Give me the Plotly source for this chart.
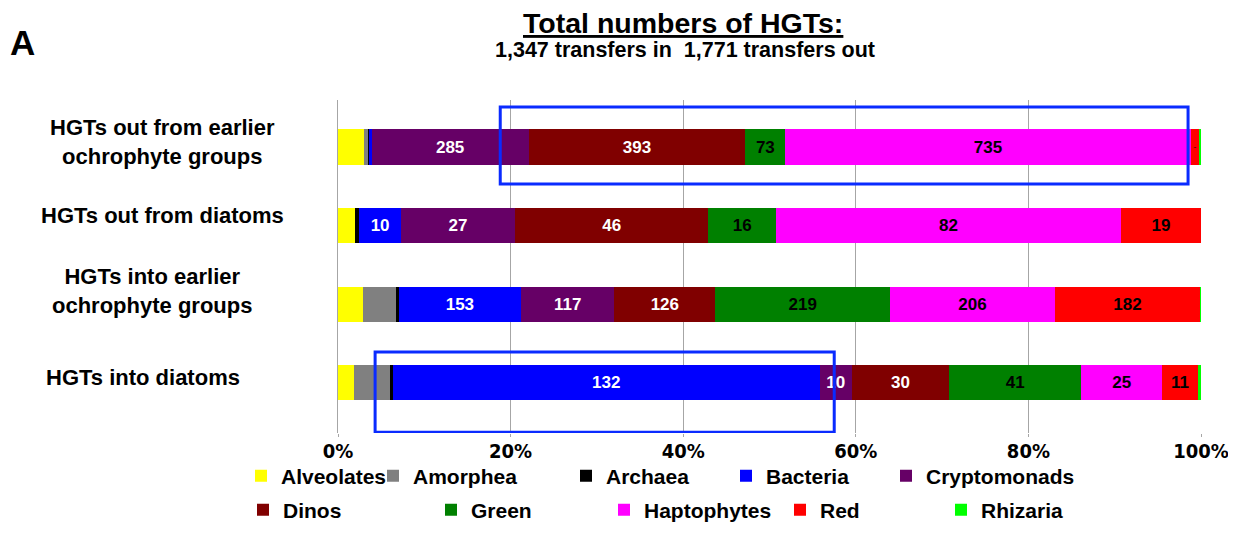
import plotly.graph_objects as go

categories = ["HGTs out from earlier<br>ochrophyte groups", "HGTs out from diatoms",
              "HGTs into earlier<br>ochrophyte groups", "HGTs into diatoms"]

series_names = ["Alveolates", "Amorphea", "Archaea", "Bacteria", "Cryptomonads",
                "Dinos", "Green", "Haptophytes", "Red", "Rhizaria"]

alveolates = [48, 4, 31, 5]
amorphea = [7, 0, 42, 11]
archaea = [1, 1, 3, 1]
bacteria = [5, 10, 153, 132]
cryptomonads = [285, 27, 117, 10]
dinos = [393, 46, 126, 30]
green = [73, 16, 219, 41]
haptophytes = [735, 82, 206, 25]
red = [15, 19, 182, 11]
rhizaria = [4, 0, 1, 1]

series_values = [alveolates, amorphea, archaea, bacteria, cryptomonads,
                 dinos, green, haptophytes, red, rhizaria]
colors = ["#FFFF00", "#808080", "#000000", "#0000FF", "#660066",
          "#800000", "#008000", "#FF00FF", "#FF0000", "#00FF00"]
label_colors = ["black", "black", "white", "white", "white",
                "white", "black", "black", "black", "black"]
show_labels = [False, False, False, True, True, True, True, True, True, False]

x_ticks = [0, 20, 40, 60, 80, 100]
x_tick_text = [f"{v}%" for v in x_ticks]

FONT = "Liberation Sans, Arial, sans-serif"
COND = "DejaVu Sans Condensed, Liberation Sans, Arial, sans-serif"

# legend text start (pixel x, reference coords) and row
legend_text_px = [283, 415, 608, 768, 928, 285, 473, 646, 822, 983]
legend_row = [0, 0, 0, 0, 0, 1, 1, 1, 1, 1]

# page body has an 8px margin; the figure is sized to fit inside the window
OFF = 8
W, H = 1236 - OFF, 533 - OFF
PX0, PY_TOP, PW, PH = 338, 100, 863, 333   # plot area in reference (window) pixels
L, T = PX0 - OFF, PY_TOP - OFF
R = W - L - PW
B = H - T - PH


def px_x(x):
    return (x - PX0) / PW


def px_y(y):
    return (PY_TOP + PH - y) / PH


fig = go.Figure()
for i, (name, vals) in enumerate(zip(series_names, series_values)):
    fig.add_trace(go.Bar(
        name=name, y=categories, x=vals, orientation="h",
        marker=dict(color=colors[i], line=dict(width=0)),
        text=[str(v) if (show_labels[i] and v >= 10) else "" for v in vals],
        textposition="inside", insidetextanchor="middle", textangle=0,
        textfont=dict(family=FONT, size=17, color=label_colors[i], weight="bold"),
        legend="legend" if i == 0 else f"legend{i+1}",
        hoverinfo="x+name",
    ))

layout_legends = {}
for i in range(10):
    key = "legend" if i == 0 else f"legend{i+1}"
    ypx = 476 if legend_row[i] == 0 else 510
    layout_legends[key] = dict(
        x=px_x(legend_text_px[i] - 42), xanchor="left",
        y=px_y(ypx), yanchor="middle",
        orientation="h", bgcolor="rgba(0,0,0,0)", borderwidth=0,
        font=dict(family=FONT, size=21, color="black", weight="bold"),
        itemclick=False, itemdoubleclick=False,
    )

fig.update_layout(
    width=W, height=H,
    margin=dict(l=L, r=R, t=T, b=B, autoexpand=False),
    barmode="stack", barnorm="percent", bargap=0.55,
    plot_bgcolor="white", paper_bgcolor="white",
    showlegend=True,
    xaxis=dict(range=[0, 100], tickvals=x_ticks, ticktext=x_tick_text,
               showgrid=True, gridcolor="#A6A6A6", gridwidth=1,
               ticks="outside", ticklen=3, tickcolor="#A6A6A6",
               ticklabelstandoff=-3,
               zeroline=False, showline=False, automargin=False,
               tickfont=dict(family=COND, size=20, color="black", weight="bold")),
    yaxis=dict(type="category", range=[3.64, -0.6], showticklabels=False,
               showgrid=False, showline=True, linecolor="#A6A6A6", linewidth=1,
               ticks="", automargin=False),
    **layout_legends,
)

# category labels
label_cfg = [(162, -5), (162, -10), (152, -13), (143, -5)]
for cat, (xpx, yshift) in zip(categories, label_cfg):
    fig.add_annotation(text=cat, x=px_x(xpx), xref="paper", y=cat, yref="y",
                       yshift=-yshift, showarrow=False, xanchor="center", yanchor="middle",
                       align="center",
                       font=dict(family=FONT, size=22, color="black", weight="bold"))

# titles
fig.add_annotation(text="Total numbers of HGTs:", x=px_x(683), y=px_y(23),
                   xref="paper", yref="paper", showarrow=False, borderpad=0,
                   xanchor="center", yanchor="middle",
                   font=dict(family=FONT, size=28.5, color="black", weight="bold",
                             lineposition="under"))
fig.add_annotation(text="1,347 transfers in  1,771 transfers out", x=px_x(685),
                   y=px_y(50), xref="paper", yref="paper", showarrow=False,
                   xanchor="center", yanchor="middle",
                   font=dict(family=FONT, size=21.5, color="black", weight="bold"))
fig.add_annotation(text="A", x=px_x(22), y=px_y(43),
                   xref="paper", yref="paper", showarrow=False,
                   xanchor="center", yanchor="middle",
                   font=dict(family=FONT, size=35, color="black", weight="bold"))

# highlight boxes
fig.add_shape(type="rect", xref="x", yref="y", x0=18.8, x1=98.5, y0=-0.51, y1=0.47,
              line=dict(color="#0A2BFF", width=3), fillcolor="rgba(0,0,0,0)")
fig.add_shape(type="rect", xref="x", yref="y", x0=4.3, x1=57.5, y0=2.61, y1=3.63,
              line=dict(color="#0A2BFF", width=3), fillcolor="rgba(0,0,0,0)")

fig.write_html("out.html")
